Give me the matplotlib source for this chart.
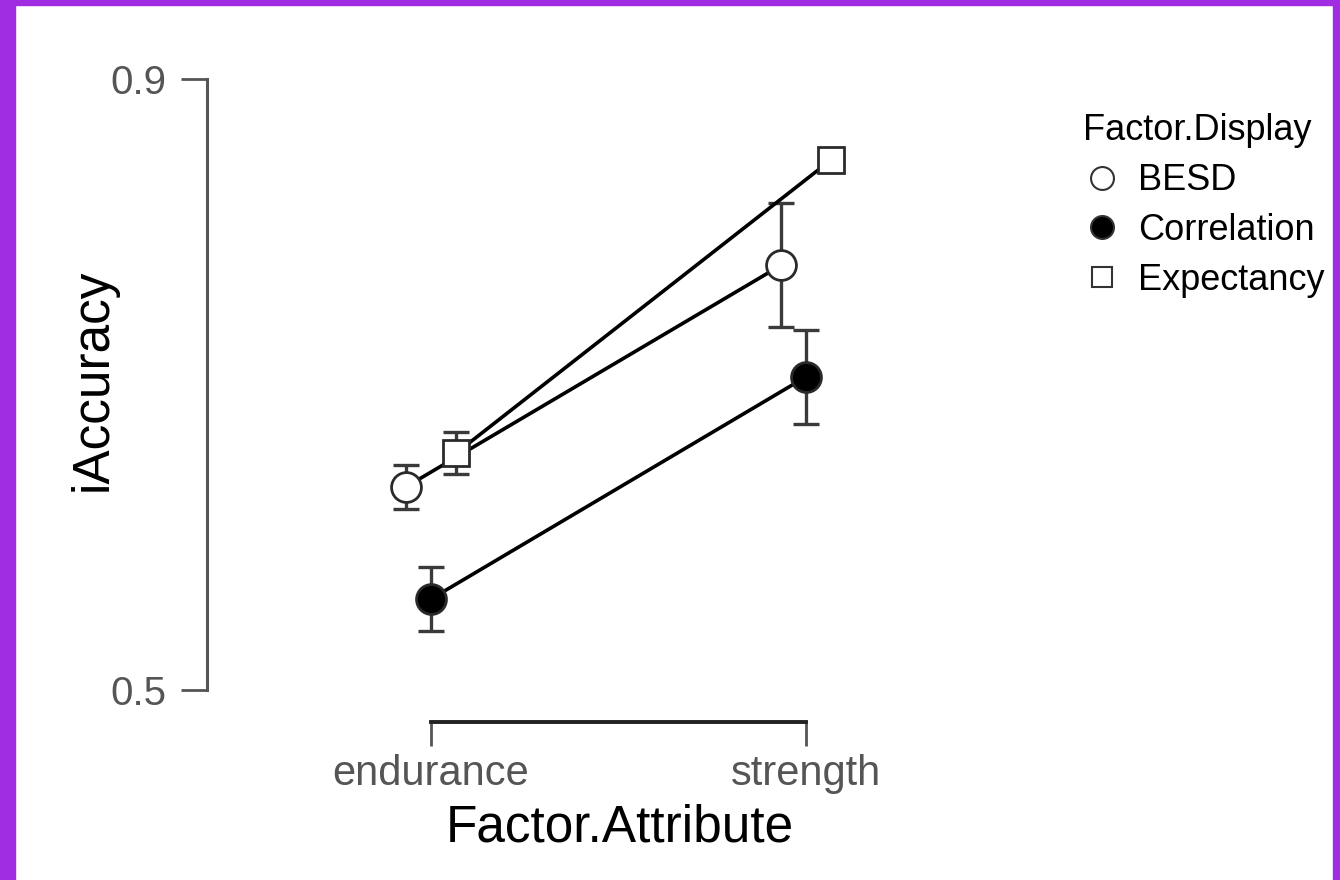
import matplotlib
matplotlib.use("Agg")
import matplotlib.pyplot as plt
from matplotlib.lines import Line2D
from matplotlib.patches import Rectangle
import numpy as np

plt.rcParams['font.family'] = ['Liberation Sans', 'DejaVu Sans']

# ---- data ----
attributes = ['endurance', 'strength']
displays = ['BESD', 'Correlation', 'Expectancy']
besd_mean = [0.633, 0.778]
besd_err = [0.0144, 0.0406]
corr_mean = [0.5596, 0.705]
corr_err = [0.021, 0.031]
expc_mean = [0.655, 0.847]
expc_err = [0.0137, 0.0]
y_ticks = [0.5, 0.9]
y_ticklabels = ['0.5', '0.9']

means = [besd_mean, corr_mean, expc_mean]
errs = [besd_err, corr_err, expc_err]
markers = ['o', 'o', 's']
faces = ['white', 'black', 'white']
msizes = [21.5, 21.5, 19]
dodge = [-0.0667, 0.0, 0.0667]

W, H = 1340, 880
fig = plt.figure(figsize=(W / 100, H / 100), dpi=100)
fig.patch.set_facecolor('white')

# purple frame
purple = '#A02DE1'
fig.patches.append(Rectangle((0, 0), 15 / W, 1, transform=fig.transFigure, color=purple, zorder=0))
fig.patches.append(Rectangle((0, 1 - 5 / H), 1, 5 / H, transform=fig.transFigure, color=purple, zorder=0))
fig.patches.append(Rectangle((1 - 7 / W, 0), 7 / W, 1, transform=fig.transFigure, color=purple, zorder=0))

left_px, right_px, top_px, bottom_px = 207, 1000, 60, 722
ax = fig.add_axes([left_px / W, 1 - bottom_px / H, (right_px - left_px) / W, (bottom_px - top_px) / H])

x = np.arange(len(attributes))
for i, name in enumerate(displays):
    xs = x + dodge[i]
    ax.errorbar(xs, means[i], yerr=errs[i], fmt='none', ecolor='#3a3a3a',
                elinewidth=2.4, capsize=9.4, capthick=2.4, zorder=2)
    ax.plot(xs, means[i], color='black', lw=2.6, zorder=3)
    ax.plot(xs, means[i], linestyle='none', marker=markers[i], markersize=msizes[i],
            markerfacecolor=faces[i], markeredgecolor='#2a2a2a', markeredgewidth=2.0, zorder=4)

# scales
x0 = -(431 - left_px) / 375.0
x1 = (right_px - 431) / 375.0
ax.set_xlim(x0, x1)
ppu = (690 - 79) / 0.4
ax.set_ylim(0.9 - (bottom_px - 79) / ppu, 0.9 + (79 - top_px) / ppu)

ax.set_xticks(x)
ax.set_xticklabels(attributes)
ax.set_yticks(y_ticks)
ax.set_yticklabels(y_ticklabels)

for s in ['top', 'right']:
    ax.spines[s].set_visible(False)
ax.spines['left'].set_bounds(0.5, 0.9)
ax.spines['bottom'].set_bounds(0, 1)
ax.spines['left'].set_color('#555555')
ax.spines['left'].set_linewidth(2.2)
ax.spines['bottom'].set_color('#222222')
ax.spines['bottom'].set_linewidth(2.8)

ax.tick_params(axis='y', length=19, width=2.0, color='#555555', labelsize=29,
               labelcolor='#555555', pad=10)
ax.tick_params(axis='x', length=17, width=2.0, color='#555555', labelsize=30,
               labelcolor='#555555', pad=6)
ax.patch.set_alpha(0)

fig.text(93 / W, 1 - 380 / H, 'iAccuracy', rotation=90, ha='center', va='center',
         fontsize=37, color='black')
fig.text(620 / W, 1 - 828 / H, 'Factor.Attribute', ha='center', va='center',
         fontsize=37, color='black')

handles = []
for i, name in enumerate(displays):
    handles.append(Line2D([], [], linestyle='none', marker=markers[i],
                          markersize=16.5 if markers[i] == 'o' else 14.5,
                          markerfacecolor=faces[i], markeredgecolor='#333333', markeredgewidth=1.5))
leg = fig.legend(handles, displays, title='Factor.Display', loc='upper left',
                 bbox_to_anchor=(1069 / W, 1 - 99 / H), frameon=False, fontsize=26,
                 title_fontsize=26, handlelength=1.05, handletextpad=0.47,
                 labelspacing=0.41, borderaxespad=0, alignment='left')

fig.savefig('out.png', dpi=100, facecolor='white')
